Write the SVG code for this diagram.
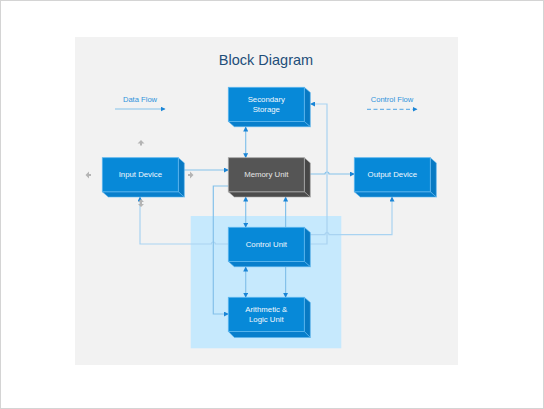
<svg xmlns="http://www.w3.org/2000/svg" width="544" height="409" viewBox="0 0 544 409">
<style>
.lbl{font-family:"Liberation Sans",Arial,sans-serif;font-size:7.8px;fill:#f2f8fd;text-anchor:middle}
.front{fill:#0789d8;stroke:#5cb6ee;stroke-width:0.8}
.side{fill:#0779c3;stroke:#5cb6ee;stroke-width:0.6}
.bot{fill:#087fcc;stroke:#5cb6ee;stroke-width:0.6}
.gfront{fill:#555555;stroke:#a8a8a8;stroke-width:0.8}
.gside{fill:#474747;stroke:#a8a8a8;stroke-width:0.6}
.gbot{fill:#4c4c4c;stroke:#a8a8a8;stroke-width:0.6}
.data{fill:none;stroke:#84c1ea;stroke-width:1.2}
.ctrl{fill:none;stroke:#a9d3f1;stroke-width:1.2}
.leg{font-family:"Liberation Sans",Arial,sans-serif;font-size:7.6px;fill:#2f93dc;text-anchor:middle}
.hd{fill:#b4b4b4}
</style>
<defs>
<marker id="ah" viewBox="0 0 10 10" refX="9" refY="5" markerWidth="5" markerHeight="5" markerUnits="userSpaceOnUse" orient="auto-start-reverse">
<path d="M0,0 L10,5 L0,10 z" fill="#1a85d6"/>
</marker>
</defs>
<rect x="0.5" y="0.5" width="543" height="408" fill="#ffffff" stroke="#d4d4d4" stroke-width="1"/>
<rect x="75" y="37" width="383" height="328" fill="#f2f2f2"/>
<rect x="190.7" y="216" width="150.6" height="132.3" fill="#c6e9fd"/>
<text x="266" y="64.5" font-family="Liberation Sans,Arial,sans-serif" font-size="14.5" fill="#1f4e79" text-anchor="middle">Block Diagram</text>
<g id="legend">
<text class="leg" x="140" y="101.5">Data Flow</text>
<path class="data" d="M115,109 H165" marker-end="url(#ah)"/>
<text class="leg" x="392" y="101.5">Control Flow</text>
<path d="M367,109.3 H417" fill="none" stroke="#6fb3e6" stroke-width="1.2" stroke-dasharray="4,2.5" marker-end="url(#ah)"/>
</g>
<g id="connectors">
<path class="data" d="M245.7,127 V157.7" marker-start="url(#ah)" marker-end="url(#ah)"/>
<path class="data" d="M184,170 H228.3" marker-end="url(#ah)"/>
<path class="data" d="M310,174 H325 a2,2 0 0 1 4,0 H354.3" marker-end="url(#ah)"/>
<path class="ctrl" d="M228.3,244 H215.3 a2,2 0 0 0 -4,0 H140 V197" marker-end="url(#ah)"/>
<path class="data" d="M228.3,186 H213.3 V314 H228.3" marker-end="url(#ah)"/>
<path class="data" d="M285.6,227.3 V197" marker-end="url(#ah)"/>
<path class="data" d="M245.7,197 V227.3" marker-start="url(#ah)" marker-end="url(#ah)"/>
<path class="ctrl" d="M309.5,244 H327 V104 H310.5" marker-end="url(#ah)"/>
<path class="ctrl" d="M309.5,234.7 H325 a2,2 0 0 1 4,0 H392 V197" marker-end="url(#ah)"/>
<path class="data" d="M245.7,267 V297.3" marker-start="url(#ah)" marker-end="url(#ah)"/>
<path class="data" d="M285.6,267 V297.3" marker-end="url(#ah)"/>
</g>
<g id="handles">
<polygon class="hd" points="141,140 144.5,143.5 142,143.5 142,145.5 140,145.5 140,143.5 137.5,143.5"/>
<polygon class="hd" points="85.5,175 89,171.5 89,174 91,174 91,176 89,176 89,178.5"/>
<polygon class="hd" points="193.5,175 190,171.5 190,174 188,174 188,176 190,176 190,178.5"/>
<polygon class="hd" points="141,199 144,202 142,202 142,204 144,204 141,207 138,204 140,204 140,202 138,202"/>
</g>
<g id="secondary-storage">
<polygon class="side" points="304.3,87.3 310.3,92.5 310.3,126.7 304.3,121.5"/>
<polygon class="bot" points="228.3,121.5 304.3,121.5 310.3,126.7 234.3,126.7"/>
<rect class="front" x="228.3" y="87.3" width="76" height="34.2"/>
<text class="lbl" x="266.3" y="102">Secondary</text>
<text class="lbl" x="266.3" y="112">Storage</text>
</g>
<g id="input-device">
<polygon class="side" points="178.3,157.7 184.3,162.9 184.3,197 178.3,191.8"/>
<polygon class="bot" points="102.3,191.8 178.3,191.8 184.3,197 108.3,197"/>
<rect class="front" x="102.3" y="157.7" width="76" height="34.1"/>
<text class="lbl" x="140.3" y="177.3">Input Device</text>
</g>
<g id="memory-unit">
<polygon class="gside" points="304.3,157.7 310.3,162.9 310.3,197 304.3,191.8"/>
<polygon class="gbot" points="228.3,191.8 304.3,191.8 310.3,197 234.3,197"/>
<rect class="gfront" x="228.3" y="157.7" width="76" height="34.1"/>
<text class="lbl" x="266.3" y="177.3" style="fill:#e6e6e6">Memory Unit</text>
</g>
<g id="output-device">
<polygon class="side" points="430.3,157.7 436.3,162.9 436.3,197 430.3,191.8"/>
<polygon class="bot" points="354.3,191.8 430.3,191.8 436.3,197 360.3,197"/>
<rect class="front" x="354.3" y="157.7" width="76" height="34.1"/>
<text class="lbl" x="392.3" y="177.3">Output Device</text>
</g>
<g id="control-unit">
<polygon class="side" points="304.3,227.3 310.3,232.5 310.3,266.7 304.3,261.4"/>
<polygon class="bot" points="228.3,261.4 304.3,261.4 310.3,266.7 234.3,266.7"/>
<rect class="front" x="228.3" y="227.3" width="76" height="34.1"/>
<text class="lbl" x="266.3" y="246.9">Control Unit</text>
</g>
<g id="alu">
<polygon class="side" points="304.3,297.3 310.3,302.5 310.3,337.5 304.3,331.4"/>
<polygon class="bot" points="228.3,331.4 304.3,331.4 310.3,337.5 234.3,337.5"/>
<rect class="front" x="228.3" y="297.3" width="76" height="34.1"/>
<text class="lbl" x="266.3" y="312">Arithmetic &amp;</text>
<text class="lbl" x="266.3" y="322">Logic Unit</text>
</g>
</svg>
